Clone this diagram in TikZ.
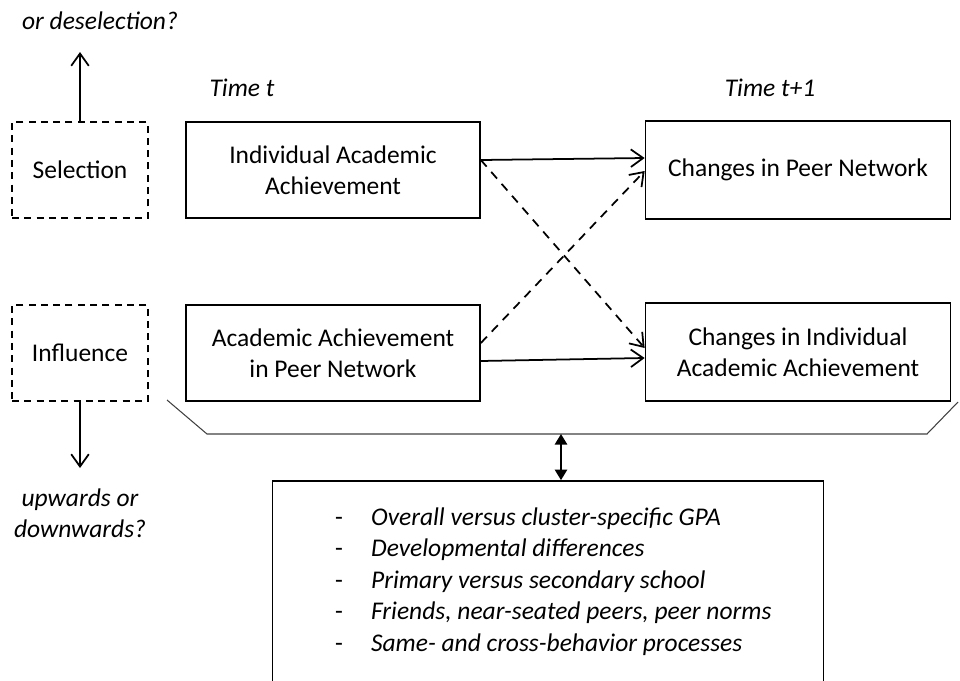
\documentclass[tikz,border=0pt]{standalone}
\usepackage{fontspec}
\usepackage{array}
\setmainfont{Carlito}
\usetikzlibrary{arrows.meta}

\begin{document}
\begin{tikzpicture}[x=0.02cm, y=-0.02cm,
    every node/.style={font=\fontsize{14.5}{17.4}\selectfont, align=center},
    box/.style={draw, line width=1pt, minimum width=5.88cm, minimum height=1.92cm},
    cbox/.style={box, minimum width=6.1cm, minimum height=1.96cm},
    dbox/.style={draw, line width=1pt, dash pattern=on 4pt off 3pt, minimum width=2.72cm, minimum height=1.92cm},
    arr/.style={-{Straight Barb[length=7pt,width=10pt]}, line width=1pt},
    darr/.style={arr, dash pattern=on 5pt off 4pt}]
    \useasboundingbox (0,0) rectangle (960,680);
    % time labels
    \node (tt) at (242,88) {\itshape Time t};
    \node (tt1) at (770,88) {\itshape Time t+1};
    % left side
    \node[dbox] (sel) at (80,170) {Selection};
    \node[dbox] (infl) at (80,353) {Influence};
    \node (desel) at (100,21) {\itshape or deselection?};
    \node (updown) at (80,513) {\itshape upwards or\\ \itshape downwards?};
    \coordinate (up) at (80,52);
    \coordinate (down) at (80,468);
    \draw[arr] (sel.north) -- (up);
    \draw[arr] (infl.south) -- (down);
    % boxes
    \node[box] (ach) at (333,170) {Individual Academic\\Achievement};
    \node[box] (peer) at (333,353) {Academic Achievement\\in Peer Network};
    \node[cbox] (chnet) at (798,170) {Changes in Peer Network};
    \node[cbox] (chach) at (798,352) {Changes in Individual\\Academic Achievement};
    \draw[arr] ([yshift=0.2cm]ach.east) -- ([yshift=0.24cm]chnet.west);
    \draw[arr] ([yshift=-0.16cm]peer.east) -- ([yshift=-0.12cm]chach.west);
    \draw[darr] ([yshift=0.2cm]ach.east) -- ([yshift=0.08cm]chach.west);
    \draw[darr] ([yshift=0.2cm]peer.east) -- ([yshift=-0.02cm]chnet.west);
    % bracket and moderators
    \draw[line width=0.6pt, black!75] (167,400) -- (207,434) -- (927,434) -- (958,402);
    \coordinate (br) at (561,434);
    \node[draw, line width=1pt, minimum width=11.02cm, minimum height=4.4cm] (fac) at (548,591) {};
    \draw[{Triangle[length=6pt,width=7pt]}-{Triangle[length=6pt,width=7pt]}, line width=1pt] (br) -- (br |- fac.north);
    \node[anchor=west, font=\fontsize{14.5}{18}\selectfont] (lst) at (329,582) {\begin{tabular}{@{}l@{\hspace{16pt}}>{\itshape}l@{}}
        - & Overall versus cluster-specific GPA\\
        - & Developmental differences\\
        - & Primary versus secondary school\\
        - & Friends, near-seated peers, peer norms\\
        - & Same- and cross-behavior processes
    \end{tabular}};
\end{tikzpicture}
\end{document}
